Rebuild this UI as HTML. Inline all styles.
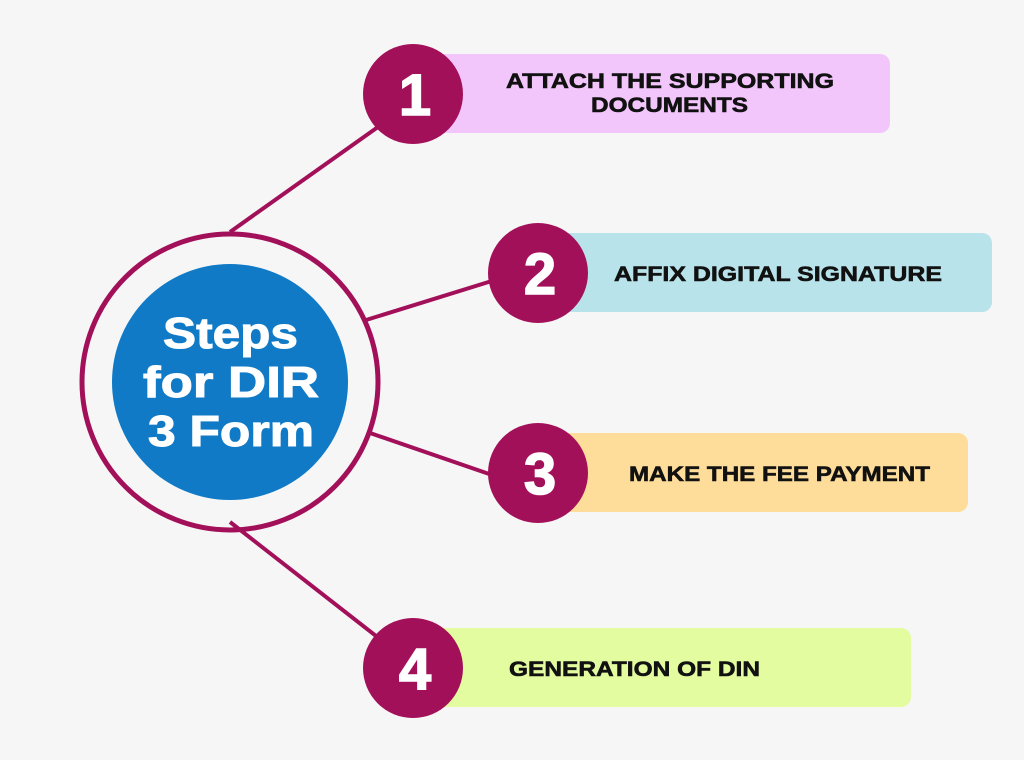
<!DOCTYPE html>
<html><head><meta charset="utf-8"><style>
html,body{margin:0;padding:0;width:1024px;height:760px;background:#f6f6f6;overflow:hidden}
</style></head><body>
<svg width="1024" height="760" xmlns="http://www.w3.org/2000/svg" style="position:absolute;left:0;top:0">
<rect width="1024" height="760" fill="#f6f6f6"/>
<g stroke="#a3105a" stroke-width="4">
<line x1="230" y1="232" x2="385" y2="122"/>
<line x1="366" y1="320" x2="495" y2="280"/>
<line x1="370" y1="433" x2="495" y2="476"/>
<line x1="230" y1="522" x2="385" y2="643"/>
</g>
<rect x="425" y="54" width="465" height="79" rx="10" fill="#f3c6fb"/>
<rect x="555" y="233" width="437" height="79" rx="10" fill="#b9e3ea"/>
<rect x="555" y="433" width="413" height="79" rx="10" fill="#fedd9a"/>
<rect x="425" y="628" width="486" height="79" rx="10" fill="#e4fca0"/>
<circle cx="230" cy="382" r="148" fill="none" stroke="#a3105a" stroke-width="5"/>
<circle cx="230" cy="382" r="118" fill="#117ac6"/>
<g fill="#a3105a">
<circle cx="413" cy="94" r="50"/>
<circle cx="538" cy="273" r="50"/>
<circle cx="538" cy="473" r="50"/>
<circle cx="413" cy="668" r="50"/>
</g>
<g font-family="Liberation Sans, sans-serif" font-weight="bold" fill="#fff" stroke="#fff" stroke-width="1.5" text-anchor="middle" font-size="58">
<text x="415" y="115">1</text>
<text x="540" y="294">2</text>
<text x="540" y="494">3</text>
<text x="415" y="689">4</text>
</g>
<g font-family="Liberation Sans, sans-serif" font-weight="bold" fill="#fff" stroke="#fff" stroke-width="1" font-size="44" lengthAdjust="spacingAndGlyphs">
<text x="163" y="348" textLength="135" lengthAdjust="spacingAndGlyphs">Steps</text>
<text x="143" y="397" textLength="176" lengthAdjust="spacingAndGlyphs">for DIR</text>
<text x="148" y="446" textLength="166" lengthAdjust="spacingAndGlyphs">3 Form</text>
</g>
<g font-family="Liberation Sans, sans-serif" font-weight="bold" fill="#111" stroke="#111" stroke-width="0.6" font-size="21">
<text x="506" y="88" textLength="328" lengthAdjust="spacingAndGlyphs">ATTACH THE SUPPORTING</text>
<text x="591" y="112" textLength="157" lengthAdjust="spacingAndGlyphs">DOCUMENTS</text>
<text x="614" y="281" textLength="328" lengthAdjust="spacingAndGlyphs">AFFIX DIGITAL SIGNATURE</text>
<text x="629" y="481" textLength="301" lengthAdjust="spacingAndGlyphs">MAKE THE FEE PAYMENT</text>
<text x="509" y="676" textLength="251" lengthAdjust="spacingAndGlyphs">GENERATION OF DIN</text>
</g>
</svg>
</body></html>
